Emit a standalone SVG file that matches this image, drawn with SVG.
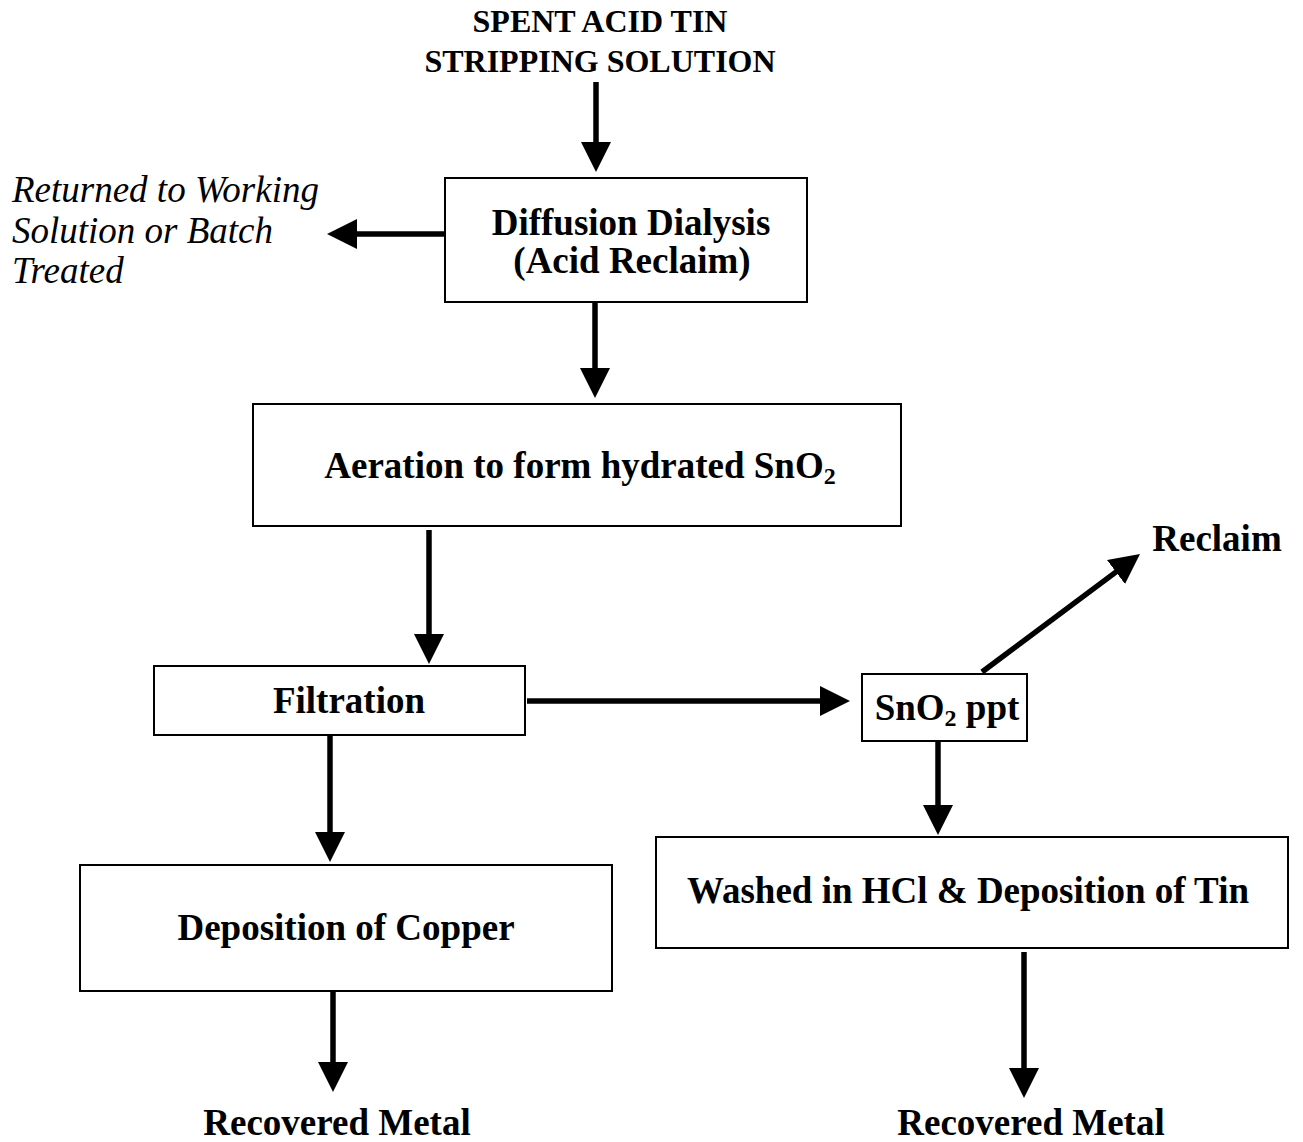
<svg xmlns="http://www.w3.org/2000/svg" width="1303" height="1142" viewBox="0 0 1303 1142">
<style>
.box{fill:#fff;stroke:#000;stroke-width:2}
.t{font-family:"Liberation Serif","Times New Roman",serif;font-weight:bold;font-size:37px;fill:#000;text-anchor:middle}
.title{font-size:32px}
.it{font-family:"Liberation Serif","Times New Roman",serif;font-style:italic;font-size:37px;fill:#000}
.c{stroke:#000;stroke-width:5.5;fill:none;marker-end:url(#ah)}
</style>
<defs>
<marker id="ah" markerUnits="userSpaceOnUse" markerWidth="30" markerHeight="30" refX="6" refY="15" orient="auto">
<path d="M0,0 L30,15 L0,30 z" fill="#000"/>
</marker>
</defs>
<rect width="1303" height="1142" fill="#fff"/>
<g id="connectors">
<line class="c" x1="596" y1="82" x2="596" y2="148"/>
<line class="c" x1="446" y1="234" x2="351" y2="234"/>
<line class="c" x1="595" y1="303" x2="595" y2="374"/>
<line class="c" x1="429" y1="530" x2="429" y2="640"/>
<line class="c" x1="527" y1="701" x2="826" y2="701"/>
<line class="c" x1="982" y1="672" x2="1120.8" y2="568.4"/>
<line class="c" x1="938" y1="742" x2="938" y2="811"/>
<line class="c" x1="330" y1="736" x2="330" y2="838"/>
<line class="c" x1="333" y1="992" x2="333" y2="1068"/>
<line class="c" x1="1024" y1="952" x2="1024" y2="1074"/>
</g>
<g id="spent">
<text class="t title" x="600" y="32">SPENT ACID TIN</text>
<text class="t title" x="600" y="72">STRIPPING SOLUTION</text>
</g>
<g id="dialysis">
<rect class="box" x="445" y="178" width="362" height="124"/>
<text class="t" x="631" y="235">Diffusion Dialysis</text>
<text class="t" x="632" y="273">(Acid Reclaim)</text>
</g>
<g id="returned">
<text class="it" x="12" y="202">Returned to Working</text>
<text class="it" x="12" y="243">Solution or Batch</text>
<text class="it" x="12" y="283">Treated</text>
</g>
<g id="aeration">
<rect class="box" x="253" y="404" width="648" height="122"/>
<text class="t" x="580" y="478">Aeration to form hydrated SnO<tspan font-size="24" dy="6">2</tspan></text>
</g>
<g id="filtration">
<rect class="box" x="154" y="666" width="371" height="69"/>
<text class="t" x="349" y="713">Filtration</text>
</g>
<g id="sno2">
<rect class="box" x="862" y="674" width="165" height="67"/>
<text class="t" x="947" y="720">SnO<tspan font-size="24" dy="6">2</tspan><tspan dy="-6"> ppt</tspan></text>
</g>
<g id="reclaim">
<text class="t" x="1217" y="551">Reclaim</text>
</g>
<g id="copper">
<rect class="box" x="80" y="865" width="532" height="126"/>
<text class="t" x="346" y="940">Deposition of Copper</text>
</g>
<g id="washed">
<rect class="box" x="656" y="837" width="632" height="111"/>
<text class="t" x="968" y="903">Washed in HCl &amp; Deposition of Tin</text>
</g>
<g id="metal1">
<text class="t" x="337" y="1135">Recovered Metal</text>
</g>
<g id="metal2">
<text class="t" x="1031" y="1135">Recovered Metal</text>
</g>
</svg>
